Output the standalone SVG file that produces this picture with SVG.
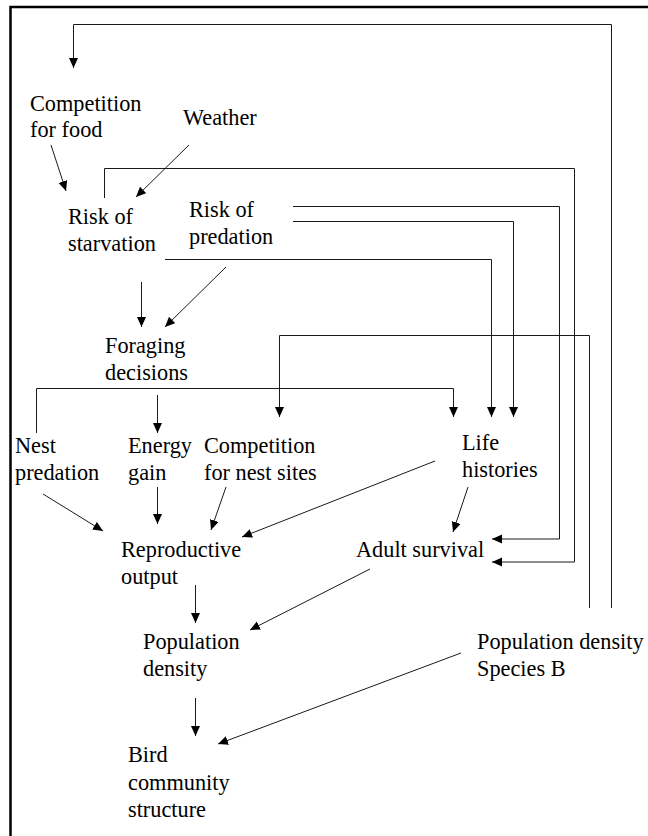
<svg xmlns="http://www.w3.org/2000/svg" width="648" height="836" viewBox="0 0 648 836">
<style>
text{font-family:"Liberation Serif","Times New Roman",serif;font-size:22.3px;fill:#000}
.c{fill:none;stroke:#1a1a1a;stroke-width:1}
.a{marker-end:url(#ah)}
.frame{fill:none;stroke:#000;stroke-width:2.5}
</style>
<defs>
<marker id="ah" markerUnits="userSpaceOnUse" markerWidth="11" markerHeight="10" refX="10" refY="4.5" orient="auto">
<path d="M0,0 L10,4.5 L0,9 z" fill="#000"/>
</marker>
</defs>
<rect width="648" height="836" fill="#fff"/>
<path class="frame" d="M10.5,836 V7 H648"/>
<g id="connectors">
<path class="c a" d="M611.5,608 V24.5 H73.5 V68"/>
<path class="c a" d="M51,145 L66,191"/>
<path class="c a" d="M189,145 L136,197"/>
<path class="c a" d="M104.5,198 V168.5 H574.5 V562 H492"/>
<path class="c a" d="M293,206.5 H559.5 V539 H492"/>
<path class="c a" d="M293,221.5 H513.5 V417"/>
<path class="c a" d="M165,259.5 H491.5 V417"/>
<path class="c a" d="M141.5,282 V327"/>
<path class="c a" d="M226,267 L165,327"/>
<path class="c a" d="M589.5,608 V335.5 H279.5 V417"/>
<path class="c" d="M36.5,433 V388.5 H453.5"/>
<path class="c a" d="M453.5,388.5 V417"/>
<path class="c a" d="M157.5,395 V433"/>
<path class="c a" d="M43,494 L103,531"/>
<path class="c a" d="M157.5,487 V524"/>
<path class="c a" d="M226,487 L211,530"/>
<path class="c a" d="M435,461 L242,537"/>
<path class="c a" d="M468,487 L453,532"/>
<path class="c a" d="M195.5,585 V623"/>
<path class="c a" d="M370,569 L250,630"/>
<path class="c a" d="M195.5,698 V736"/>
<path class="c a" d="M461,653 L218,744"/>
</g>
<g id="competition-food"><text x="30" y="111">Competition</text><text x="30" y="137">for food</text></g>
<g id="weather"><text x="183" y="125">Weather</text></g>
<g id="risk-starvation"><text x="68" y="224">Risk of</text><text x="68" y="251">starvation</text></g>
<g id="risk-predation"><text x="189" y="217">Risk of</text><text x="189" y="244">predation</text></g>
<g id="foraging"><text x="105" y="353">Foraging</text><text x="105" y="380">decisions</text></g>
<g id="nest-predation"><text x="15" y="453">Nest</text><text x="15" y="480">predation</text></g>
<g id="energy-gain"><text x="128" y="453">Energy</text><text x="128" y="480">gain</text></g>
<g id="competition-nest"><text x="204" y="453">Competition</text><text x="204" y="480">for nest sites</text></g>
<g id="life-histories"><text x="462" y="450">Life</text><text x="462" y="477">histories</text></g>
<g id="reproductive"><text x="121" y="557">Reproductive</text><text x="121" y="584">output</text></g>
<g id="adult-survival"><text x="356" y="557">Adult survival</text></g>
<g id="population-density"><text x="143" y="649">Population</text><text x="143" y="676">density</text></g>
<g id="population-b"><text x="477" y="649">Population density</text><text x="477" y="676">Species B</text></g>
<g id="bird-community"><text x="128" y="762">Bird</text><text x="128" y="790">community</text><text x="128" y="817">structure</text></g>
</svg>
